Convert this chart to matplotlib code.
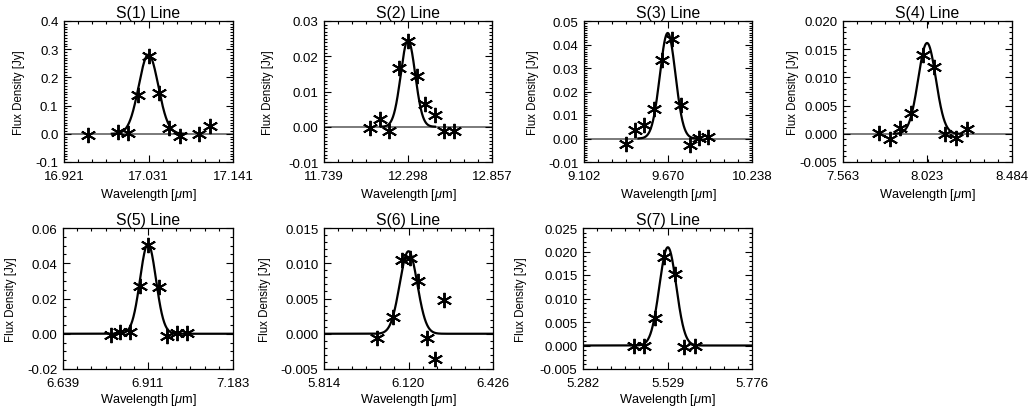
import numpy as np
import matplotlib
matplotlib.use("Agg")
import matplotlib.pyplot as plt
from matplotlib.ticker import FixedLocator, AutoMinorLocator, MultipleLocator, FormatStrFormatter

plt.rcParams['font.family'] = ['Liberation Sans', 'DejaVu Sans']
plt.rcParams['mathtext.fontset'] = 'custom'
plt.rcParams['mathtext.it'] = 'Liberation Sans:italic'
plt.rcParams['mathtext.rm'] = 'Liberation Sans'

# ---- data ----
titles = ["S(1) Line", "S(2) Line", "S(3) Line", "S(4) Line",
          "S(5) Line", "S(6) Line", "S(7) Line"]

x_s1 = [16.952, 16.991, 17.004, 17.017, 17.032, 17.045, 17.058, 17.072, 17.097, 17.111]
y_s1 = [-0.004, 0.005, 0.002, 0.138, 0.275, 0.146, 0.019, -0.007, -0.001, 0.026]

x_s2 = [12.047, 12.109, 12.174, 12.236, 12.298, 12.360, 12.413, 12.478, 12.540, 12.602]
y_s2 = [-0.0003, 0.0021, -0.0012, 0.0168, 0.0243, 0.0145, 0.0065, 0.0033, -0.0013, -0.0011]

x_s3 = [9.386, 9.449, 9.508, 9.573, 9.629, 9.697, 9.758, 9.816, 9.877, 9.938]
y_s3 = [-0.0022, 0.0035, 0.0059, 0.0127, 0.0335, 0.0422, 0.0141, -0.0029, 0.0004, 0.0006]

x_s4 = [7.757, 7.817, 7.875, 7.935, 7.997, 8.061, 8.121, 8.179, 8.239]
y_s4 = [0.0001, -0.0009, 0.0010, 0.0037, 0.0140, 0.0119, -0.0001, -0.0008, 0.0008]

x_s5 = [6.792, 6.820, 6.852, 6.884, 6.912, 6.946, 6.973, 7.004, 7.036]
y_s5 = [-0.0006, 0.0009, 0.0009, 0.0272, 0.0505, 0.0265, -0.0010, 0.0004, 0.0006]

x_s6 = [6.005, 6.063, 6.096, 6.126, 6.156, 6.186, 6.216, 6.248]
y_s6 = [-0.0006, 0.0024, 0.0105, 0.0108, 0.0075, -0.0006, -0.0036, 0.0048]

x_s7 = [5.430, 5.459, 5.491, 5.518, 5.550, 5.578, 5.610]
y_s7 = [-0.0002, 0.0000, 0.0058, 0.0188, 0.0152, -0.0003, 0.0000]

# Gaussian fit parameters
fit_center = [17.031, 12.298, 9.668, 8.021, 6.911, 6.120, 5.530]
fit_amp    = [0.281, 0.0246, 0.0449, 0.0161, 0.0510, 0.0117, 0.0209]
fit_fwhm   = [0.030, 0.113, 0.124, 0.113, 0.060, 0.075, 0.058]

# x tick values (left, centre, right) as labelled
x_ticks = [[16.921, 17.031, 17.141], [11.739, 12.298, 12.857], [9.102, 9.670, 10.238],
           [7.563, 8.023, 8.484], [6.639, 6.911, 7.183], [5.814, 6.120, 6.426],
           [5.282, 5.529, 5.776]]
y_limits = [(-0.1, 0.4), (-0.01, 0.03), (-0.01, 0.05), (-0.005, 0.020),
            (-0.02, 0.06), (-0.005, 0.015), (-0.005, 0.025)]
y_major = [0.1, 0.01, 0.01, 0.005, 0.02, 0.005, 0.005]
y_minor_n = [10, 10, 10, 5, 4, 5, 5]
y_fmt = ['%.1f', '%.2f', '%.2f', '%.3f', '%.2f', '%.3f', '%.3f']

xs = [x_s1, x_s2, x_s3, x_s4, x_s5, x_s6, x_s7]
ys = [y_s1, y_s2, y_s3, y_s4, y_s5, y_s6, y_s7]

# axes boxes in pixels: left, right, top, bottom
boxes = [(64, 233, 22, 163), (324, 492, 22, 163), (584, 752, 22, 163), (843, 1012, 22, 163),
         (63, 233, 229, 370), (324, 493, 229, 370), (583, 752, 229, 370)]
ylabel_x = [19, 268, 533, 793, 11, 265, 521]      # label centre (px)
xlabel_y = [195, 195, 195, 195, 400, 400, 400]    # label centre (px)

W, H = 1028, 410
fig = plt.figure(figsize=(W / 100, H / 100), dpi=100)

for i in range(7):
    l, r, t, b = boxes[i]
    ax = fig.add_axes([l / W, (H - b) / H, (r - l) / W, (b - t) / H])
    x0, xc, x1 = x_ticks[i]
    ax.set_xlim(x0, x1)
    ax.set_ylim(*y_limits[i])

    xx = np.linspace(x0, x1, 800)
    sig = fit_fwhm[i] / 2.3548
    g = fit_amp[i] * np.exp(-0.5 * ((xx - fit_center[i]) / sig) ** 2)
    if i < 4:
        ax.axhline(0, color='#7a7a7a', lw=1.4, zorder=1)
        m = np.abs(xx - fit_center[i]) < 1.6 * fit_fwhm[i]
        ax.plot(xx[m], g[m], color='black', lw=1.6, zorder=2)
    else:
        ax.plot(xx, g, color='black', lw=1.6, zorder=2)

    ax.plot(xs[i], ys[i], linestyle='none', marker=(6, 2, 0), markersize=11,
            markeredgewidth=1.4, color='black', zorder=3)

    ax.xaxis.set_major_locator(FixedLocator([x0, xc, x1]))
    ax.xaxis.set_minor_locator(FixedLocator(np.linspace(x0, x1, 13)))
    ax.xaxis.set_major_formatter(FormatStrFormatter('%.3f'))
    ax.yaxis.set_major_locator(MultipleLocator(y_major[i]))
    ax.yaxis.set_minor_locator(AutoMinorLocator(y_minor_n[i]))
    ax.yaxis.set_major_formatter(FormatStrFormatter(y_fmt[i]))

    ax.tick_params(which='both', direction='in', top=True, right=True, width=0.8)
    ax.tick_params(which='major', length=5, labelsize=9.5)
    ax.tick_params(which='minor', length=2.5)
    ax.tick_params(axis='x', which='major', pad=6)
    ax.tick_params(axis='y', which='major', pad=4)
    for s in ax.spines.values():
        s.set_linewidth(0.9)

    ax.set_title(titles[i], fontsize=11.3, pad=3)
    ax.set_xlabel(r'Wavelength [$\mu$m]', fontsize=9.2)
    ax.xaxis.label.set_va('center')
    ax.xaxis.set_label_coords(0.5, (b - xlabel_y[i]) / (b - t))
    ax.set_ylabel('Flux Density [Jy]', fontsize=8.3)
    ax.yaxis.label.set_va('center')
    ax.yaxis.set_label_coords((ylabel_x[i] - l) / (r - l), 0.5)

fig.savefig('out.png', dpi=100, facecolor='white')
